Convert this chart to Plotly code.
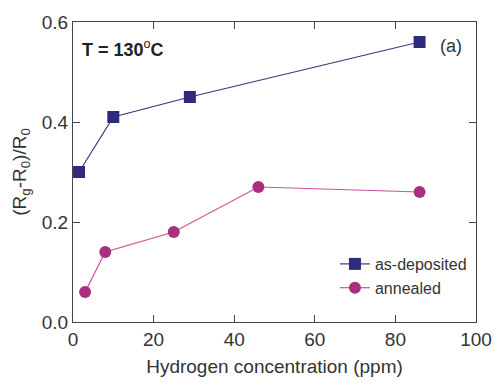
import plotly.graph_objects as go

x_dep = [1.5, 10, 29, 86]
y_dep = [0.30, 0.41, 0.45, 0.56]
x_ann = [3, 8, 25, 46, 86]
y_ann = [0.06, 0.14, 0.18, 0.27, 0.26]

font = "Liberation Sans, Arial, sans-serif"
navy = "#2f2b7c"
mag = "#a8307f"

fig = go.Figure()
fig.add_trace(go.Scatter(x=x_dep, y=y_dep, mode="lines+markers", name="as-deposited",
                         line=dict(color="#3a3a7a", width=1.2),
                         marker=dict(symbol="square", size=12, color=navy)))
fig.add_trace(go.Scatter(x=x_ann, y=y_ann, mode="lines+markers", name="annealed",
                         line=dict(color="#d0509a", width=1.2),
                         marker=dict(symbol="circle", size=12, color=mag)))

axis_common = dict(showgrid=False, zeroline=False, showline=True, linecolor="#444",
                   linewidth=1.2, mirror="ticks", ticks="inside", ticklen=7,
                   tickcolor="#444", tickfont=dict(size=19, color="#333", family=font))
fig.update_xaxes(range=[0, 100], dtick=20, **axis_common,
                 title=dict(text="Hydrogen concentration (ppm)", font=dict(size=19, color="#333", family=font), standoff=10))
fig.update_yaxes(range=[0, 0.6], dtick=0.2, tickformat=".1f", **axis_common,
                 title=dict(text="(R<sub>g</sub>-R<sub>0</sub>)/R<sub>0</sub>", font=dict(size=19, color="#333", family=font), standoff=10))

fig.add_annotation(x=0.018, y=0.91, xref="paper", yref="paper",
                   text="<b>T = 130</b><sup>o</sup><b>C</b>",
                   showarrow=False, xanchor="left", yanchor="middle",
                   font=dict(size=18, color="#222", family=font))
fig.add_annotation(x=0.97, y=0.92, xref="paper", yref="paper", text="(a)",
                   showarrow=False, xanchor="right", yanchor="middle",
                   font=dict(size=18, color="#333", family=font))

fig.update_layout(width=504, height=385, margin=dict(l=73, r=19, t=16, b=61),
                  plot_bgcolor="white", paper_bgcolor="white",
                  legend=dict(x=0.65, y=0.25, xanchor="left", yanchor="top",
                              font=dict(size=16, color="#333", family=font),
                              bgcolor="rgba(0,0,0,0)", tracegroupgap=0, itemwidth=30))
fig.write_html("out.html")
